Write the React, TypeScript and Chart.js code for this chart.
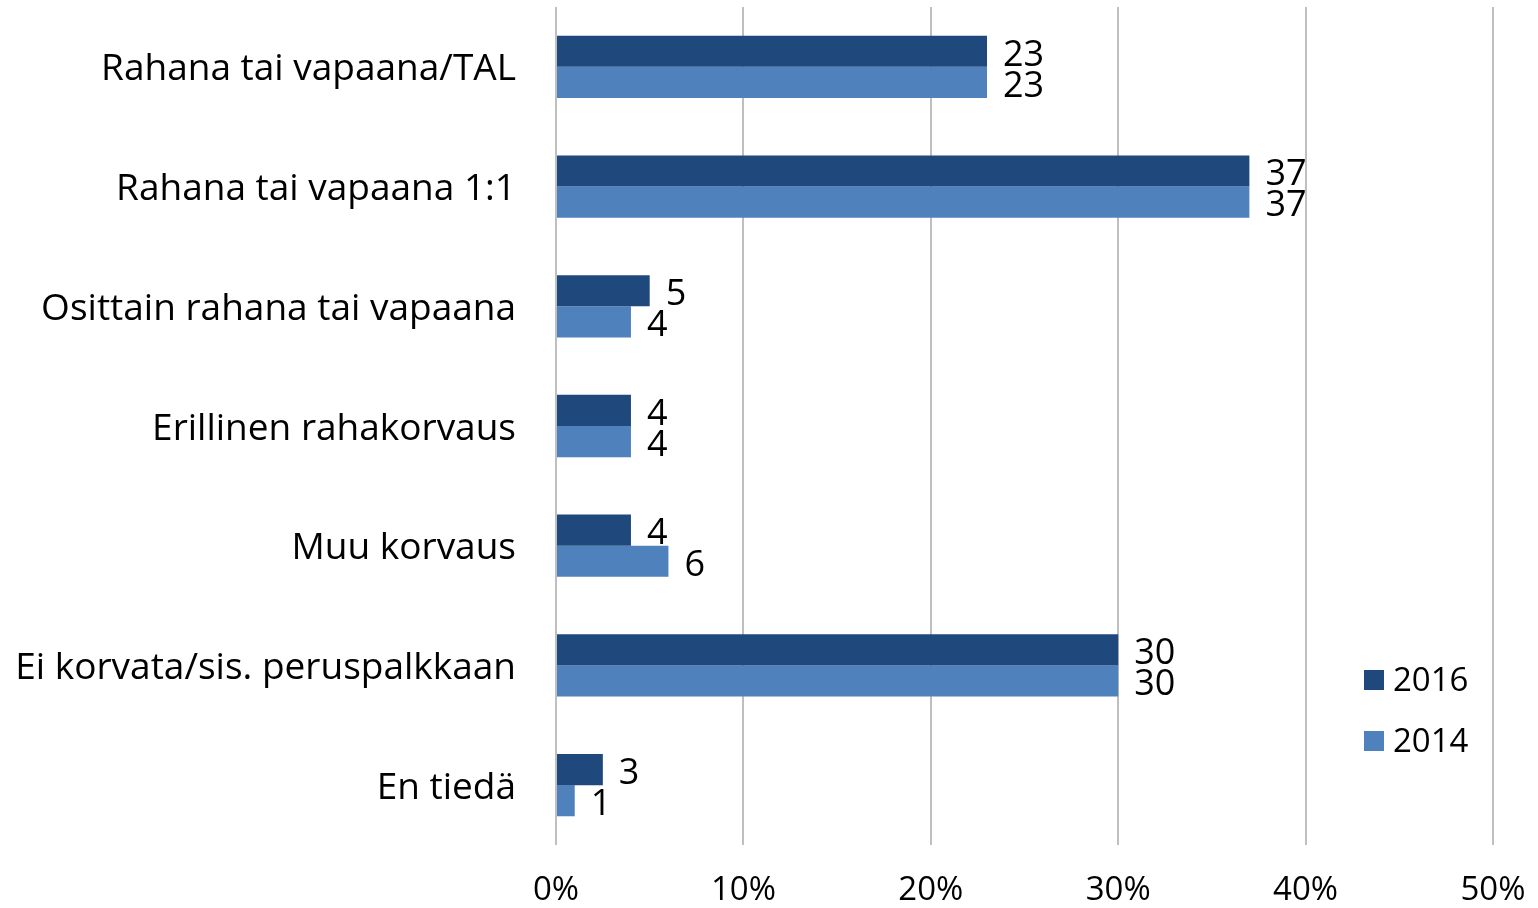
import React, { useEffect, useRef } from "react";
import { Chart, registerables } from "chart.js";

Chart.register(...registerables);

const categories = [
  "Rahana tai vapaana/TAL",
  "Rahana tai vapaana 1:1",
  "Osittain rahana tai vapaana",
  "Erillinen rahakorvaus",
  "Muu korvaus",
  "Ei korvata/sis. peruspalkkaan",
  "En tiedä",
];
const values2016 = [23, 37, 5, 4, 4, 30, 2.5];
const values2014 = [23, 37, 4, 4, 6, 30, 1];
const labels2016 = ["23", "37", "5", "4", "4", "30", "3"];
const labels2014 = ["23", "37", "4", "4", "6", "30", "1"];
const xTicks = [0, 10, 20, 30, 40, 50];

const FONT = "'Open Sans'";
const COLOR_2016 = "#1F497D";
const COLOR_2014 = "#4F81BD";

export default function App() {
  const ref = useRef<HTMLCanvasElement | null>(null);

  useEffect(() => {
    if (!ref.current) return;
    const labelPlugin = {
      id: "barLabels",
      afterDatasetsDraw(chart: any) {
        const ctx = chart.ctx;
        ctx.save();
        ctx.font = `36px ${FONT}`;
        ctx.fillStyle = "#000";
        ctx.textAlign = "left";
        ctx.textBaseline = "middle";
        const sets = [labels2016, labels2014];
        chart.data.datasets.forEach((ds: any, di: number) => {
          const meta = chart.getDatasetMeta(di);
          meta.data.forEach((bar: any, i: number) => {
            ctx.fillText(sets[di][i], bar.x + 16, bar.y + 4);
          });
        });
        ctx.restore();
      },
    };
    const legendPlugin = {
      id: "customLegend",
      afterDraw(chart: any) {
        const ctx = chart.ctx;
        ctx.save();
        ctx.font = `33px ${FONT}`;
        ctx.textAlign = "left";
        ctx.textBaseline = "middle";
        chart.data.datasets.forEach((ds: any, di: number) => {
          const cy = 680 + di * 61;
          ctx.fillStyle = ds.backgroundColor;
          ctx.fillRect(1364, cy - 10, 20, 20);
          ctx.fillStyle = "#000";
          ctx.fillText(ds.label, 1393, cy + 2);
        });
        ctx.restore();
      },
    };
    const chart = new Chart(ref.current, {
      type: "bar",
      data: {
        labels: categories,
        datasets: [
          { label: "2016", data: values2016, backgroundColor: COLOR_2016 },
          { label: "2014", data: values2014, backgroundColor: COLOR_2014 },
        ],
      },
      options: {
        indexAxis: "y",
        animation: false,
        responsive: false,
        maintainAspectRatio: false,
        layout: { padding: { top: 7, right: 45, left: 0, bottom: 0 } },
        datasets: {
          bar: { categoryPercentage: 0.52, barPercentage: 1 },
        },
        plugins: {
          legend: { display: false },
          tooltip: { enabled: false },
        },
        scales: {
          x: {
            min: 0,
            max: 50,
            afterBuildTicks(scale: any) {
              scale.ticks = xTicks.map((v) => ({ value: v }));
            },
            afterFit(scale: any) {
              scale.height = 63;
              scale.paddingLeft = 0;
              scale.paddingRight = 0;
            },
            ticks: {
              callback: (v: any) => `${v}%`,
              font: { family: FONT, size: 33 },
              color: "#000",
              padding: 26,
              maxRotation: 0,
            },
            grid: { color: "#BFBFBF", lineWidth: 2, drawTicks: false },
            border: { display: false },
          },
          y: {
            afterFit(scale: any) {
              scale.width = 556;
              scale.paddingTop = 0;
              scale.paddingBottom = 0;
            },
            ticks: {
              font: { family: FONT, size: 37 },
              color: "#000",
              padding: 40,
              labelOffset: 3,
            },
            grid: { display: false, drawTicks: false },
            border: { display: false },
          },
        },
      },
      plugins: [labelPlugin, legendPlugin],
    });
    return () => chart.destroy();
  }, []);

  return (
    <div style={{ position: "fixed", left: 0, top: 0, width: 1538, height: 908, background: "#fff" }}>
      <canvas ref={ref} width={1538} height={908} style={{ width: 1538, height: 908 }} />
    </div>
  );
}
